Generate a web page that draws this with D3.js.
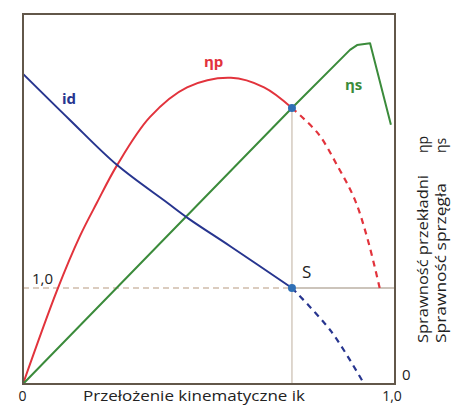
<!DOCTYPE html>
<html>
<head>
<meta charset="utf-8">
<script src="https://cdn.jsdelivr.net/npm/d3@7"></script>
<style>
  body { margin: 0; background: #fff; }
  text { font-family: "Open Sans", "DejaVu Sans", sans-serif; }
</style>
</head>
<body>
<div id="chart"></div>
<script>
// ik values and curves
const idSolidX = [0, 0.126, 0.253, 0.387, 0.446, 0.559, 0.723];
const idSolidY = [3.23, 2.75, 2.28, 1.89, 1.72, 1.43, 1.0];
const idDashX = [0.723, 0.828, 0.917];
const idDashY = [1.0, 0.55, 0];

const npSolidX = [0, 0.092, 0.153, 0.199, 0.253, 0.341, 0.441, 0.559, 0.648, 0.723];
const npSolidY = [0, 0.98, 1.54, 1.89, 2.28, 2.78, 3.09, 3.19, 3.09, 2.875];
const npDashX = [0.723, 0.793, 0.847, 0.892, 0.927, 0.96];
const npDashY = [2.875, 2.61, 2.26, 1.92, 1.5, 0.98];

const nsX = [0, 0.723, 0.879, 0.898, 0.933, 0.989];
const nsY = [0, 2.875, 3.48, 3.53, 3.55, 2.70];

const pointS = { x: 0.723, y: 1.0 };
const xTicks = ["0", "1,0"];

const width = 462, height = 407;
const mLeft = 23, mRight = 395, mTop = 14, mBottom = 384;

const svg = d3.select("#chart").append("svg")
  .attr("width", width).attr("height", height);

const x = d3.scaleLinear().domain([0, 1]).range([mLeft, mRight]);
const y = d3.scaleLinear().domain([0, 3.854]).range([mBottom, mTop]);

const zip = (xs, ys) => xs.map((v, i) => [v, ys[i]]);
const smooth = d3.line().x(d => x(d[0])).y(d => y(d[1])).curve(d3.curveCatmullRom.alpha(0.5));
const straight = d3.line().x(d => x(d[0])).y(d => y(d[1]));

// reference lines through S
svg.append("line")
  .attr("x1", x(pointS.x)).attr("x2", x(pointS.x))
  .attr("y1", y(0)).attr("y2", y(npSolidY[npSolidY.length - 1]))
  .attr("stroke", "#c9bcae").attr("stroke-width", 1.2);
svg.append("line")
  .attr("x1", x(0)).attr("x2", x(pointS.x))
  .attr("y1", y(1)).attr("y2", y(1))
  .attr("stroke", "#b89a80").attr("stroke-width", 1.2)
  .attr("stroke-dasharray", "6,4");
svg.append("line")
  .attr("x1", x(pointS.x)).attr("x2", x(1))
  .attr("y1", y(1)).attr("y2", y(1))
  .attr("stroke", "#9a8a78").attr("stroke-width", 1.2);

// curves
svg.append("path").attr("d", smooth(zip(npSolidX, npSolidY)))
  .attr("fill", "none").attr("stroke", "#e2333c").attr("stroke-width", 2);
svg.append("path").attr("d", smooth(zip(npDashX, npDashY)))
  .attr("fill", "none").attr("stroke", "#e2333c").attr("stroke-width", 2.2)
  .attr("stroke-dasharray", "6,5");

svg.append("path").attr("d", straight(zip(nsX, nsY)))
  .attr("fill", "none").attr("stroke", "#3b8b3b").attr("stroke-width", 2)
  .attr("stroke-linejoin", "round");

svg.append("path").attr("d", smooth(zip(idSolidX, idSolidY)))
  .attr("fill", "none").attr("stroke", "#27358f").attr("stroke-width", 2);
svg.append("path").attr("d", smooth(zip(idDashX, idDashY)))
  .attr("fill", "none").attr("stroke", "#27358f").attr("stroke-width", 2.2)
  .attr("stroke-dasharray", "6,5");

// dots
svg.selectAll("circle.pt")
  .data([[pointS.x, pointS.y], [npSolidX[npSolidX.length - 1], npSolidY[npSolidY.length - 1]]])
  .join("circle")
  .attr("cx", d => x(d[0])).attr("cy", d => y(d[1])).attr("r", 4)
  .attr("fill", "#2f6fb5");

// frame
svg.append("rect")
  .attr("x", mLeft).attr("y", mTop)
  .attr("width", mRight - mLeft).attr("height", mBottom - mTop)
  .attr("fill", "none").attr("stroke", "#62574a").attr("stroke-width", 2);

// labels
svg.append("text").attr("x", 62).attr("y", 104).text("id")
  .attr("fill", "#27358f").attr("font-weight", "bold").attr("font-size", 15);
svg.append("text").attr("x", 204).attr("y", 67).text("ηp")
  .attr("fill", "#e2333c").attr("font-weight", "bold").attr("font-size", 15);
svg.append("text").attr("x", 345).attr("y", 90).text("ηs")
  .attr("fill", "#3b8b3b").attr("font-weight", "bold").attr("font-size", 15);
svg.append("text").attr("x", 302).attr("y", 278).text("S")
  .attr("fill", "#222").attr("font-size", 17);
svg.append("text").attr("x", 32).attr("y", 284).text("1,0")
  .attr("fill", "#222").attr("font-size", 15);

svg.selectAll("text.xt").data(xTicks).join("text")
  .attr("x", (d, i) => x(i)).attr("y", 401)
  .attr("text-anchor", "middle")
  .attr("dx", (d, i) => i === 0 ? -0.5 : -3)
  .attr("font-size", 14).attr("fill", "#222").text(d => d);

svg.append("text").attr("x", 402).attr("y", 380).text("0")
  .attr("fill", "#222").attr("font-size", 15);

svg.append("text").attr("x", 83).attr("y", 401)
  .attr("textLength", 222).attr("lengthAdjust", "spacingAndGlyphs")
  .attr("font-size", 14).attr("fill", "#222").text("Przełożenie kinematyczne ik");

// rotated right labels
const rot = [
  { x: 428, y: 343, t: "Sprawność przekładni", len: 168 },
  { x: 428, y: 153, t: "ηp", len: 0 },
  { x: 446, y: 343, t: "Sprawność sprzęgła", len: 160 },
  { x: 446, y: 153, t: "ηs", len: 0 }
];
rot.forEach(r => {
  const t = svg.append("text")
    .attr("transform", `translate(${r.x},${r.y}) rotate(-90)`)
    .attr("font-size", 14).attr("fill", "#222").text(r.t);
  if (r.len) t.attr("textLength", r.len).attr("lengthAdjust", "spacingAndGlyphs");
});
</script>
</body>
</html>
